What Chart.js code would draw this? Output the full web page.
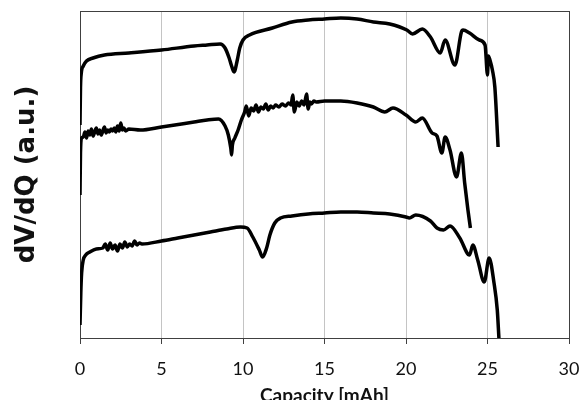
<!DOCTYPE html>
<html>
<head>
<meta charset="utf-8">
<script src="https://cdn.jsdelivr.net/npm/chart.js@4"></script>
<style>
html,body{margin:0;padding:0;background:#fff;}
#wrap{width:581px;height:400px;}
</style>
</head>
<body>
<div id="wrap"><canvas id="c" width="581" height="400"></canvas></div>
<script>
// Capacity [mAh] and dV/dQ (a.u., arbitrary vertical offsets)
const topX = [0,0.03,0.08,0.2,0.4,0.8,1.5,3,5,7,7.8,8.6,8.9,9.15,9.3,9.45,9.65,9.8,10.0,10.4,11.8,13,14,15,16,17,18,19,20.05,20.4,21.0,21.5,22.1,22.4,23.0,23.4,23.5,23.9,24.5,24.85,25.0,25.05,25.15,25.3,25.45,25.65];
const topY = [213,250,265,272,277,280,283,285,288,292,293,294,290,280,272,266,278,290,298,303,310,316,318,319,320,319,316,314,308,304,309,301,285,298,273,306,308,305,298,293,263,282,278,268,251,191];

const midX = [0,0.03,0.1,0.2,0.3,0.4,0.5,0.6,0.7,0.8,0.9,1.0,1.1,1.2,1.3,1.4,1.5,1.6,1.7,1.8,1.9,2.0,2.1,2.2,2.3,2.4,2.5,2.6,2.7,2.8,3.0,3.7,5,7,7.8,8.5,8.9,9.1,9.25,9.3,9.35,9.5,9.7,9.9,10.1,10.2,10.35,10.5,10.65,10.8,10.95,11.1,11.25,11.4,11.55,11.7,11.85,12.0,12.2,12.4,12.6,12.8,12.95,13.05,13.15,13.3,13.45,13.6,13.75,13.9,14.0,14.1,14.2,14.35,14.5,15,16,17,18,18.7,19.2,20,20.6,21,21.6,21.9,22.2,22.4,22.7,23.1,23.4,23.6,23.8,23.95];
const midY = [143,185,200,201,206,200,207,203,209,202,206,210,204,208,203,207,211,205,208,206,209,207,210,206,212,207,215,208,210,207,209,208,211,216,218,219,212,203,190,183,193,200,208,218,226,232,222,230,227,233,226,231,229,234,228,232,230,233,231,234,232,235,233,243,226,236,232,237,233,244,229,236,234,237,236,237,237,235,231,226,230,223,216,220,205,202,185,201,188,161,185,155,128,110];

const botX = [0,0.05,0.1,0.2,0.35,0.6,1.0,1.4,1.55,1.7,1.85,2.0,2.15,2.3,2.45,2.6,2.75,2.9,3.05,3.2,3.35,3.5,3.65,3.8,5,6,7,8,9,9.85,10.25,10.6,11.0,11.2,11.45,11.65,11.95,12.3,13,14,15,16,17,18,19,20,20.2,20.6,21.5,21.9,22.3,22.7,23.3,23.9,24.1,24.4,24.8,25.1,25.4,25.6,25.7];
const botY = [13,45,65,78,83,86,89,90,94,88,95,89,93,87,94,90,96,91,94,92,97,93,95,94,97,100,103,106,109,111,110,101,88,81,90,103,115,120,122,124,125,126,126,125,124,121,120,123,117,110,108,112,100,83,93,78,56,80,55,28,0];

const xTicks = [0,5,10,15,20,25,30];
const xTitle = 'Capacity [mAh]';
const yTitle = 'dV/dQ (a.u.)';

function pts(xs, ys){ return xs.map((x,i)=>({x:x, y:ys[i]})); }

const lineStyle = {borderColor:'#000', borderWidth:3.5, pointRadius:0, cubicInterpolationMode:'monotone', fill:false};

const boxPlugin = {
  id:'box',
  afterDraw(chart){
    const {ctx, chartArea:a} = chart;
    ctx.save();
    ctx.strokeStyle = '#404040';
    ctx.lineWidth = 1;
    ctx.beginPath();
    ctx.moveTo(a.left, a.top+0.5);
    ctx.lineTo(a.right+0.5, a.top+0.5);
    ctx.lineTo(a.right+0.5, a.bottom);
    ctx.stroke();
    ctx.restore();
  }
};

new Chart(document.getElementById('c'), {
  type:'line',
  data:{
    datasets:[
      Object.assign({label:'top', data:pts(topX, topY)}, lineStyle),
      Object.assign({label:'middle', data:pts(midX, midY)}, lineStyle),
      Object.assign({label:'bottom', data:pts(botX, botY)}, lineStyle)
    ]
  },
  options:{
    responsive:false,
    animation:false,
    layout:{padding:{top:11, right:12, left:0, bottom:-7}},
    plugins:{legend:{display:false}, tooltip:{enabled:false}},
    scales:{
      x:{
        type:'linear', min:0, max:30,
        afterBuildTicks(s){ s.ticks = xTicks.map(v=>({value:v})); },
        afterFit(s){ s.height = 69; s.paddingLeft = 0; s.paddingRight = 0; },
        grid:{
          color:(c)=> (c.tick && c.tick.value===30) ? '#404040' : '#c4c4c4',
          lineWidth:1, drawTicks:true, tickLength:6, tickColor:'#404040'
        },
        border:{display:true, color:'#404040', width:1},
        ticks:{font:{family:'Lato', size:18}, color:'#111', padding:14, maxRotation:0},
        title:{display:true, text:xTitle, font:{family:'Lato', size:19, weight:'bold'}, color:'#111', padding:{top:0, bottom:0}}
      },
      y:{
        min:0, max:327,
        afterFit(s){ s.width = 80; },
        grid:{display:false},
        border:{display:true, color:'#404040', width:1},
        ticks:{display:false},
        title:{display:true, text:yTitle, font:{family:'DejaVu Sans', size:26, weight:'bold'}, color:'#111', padding:{top:12, bottom:0}}
      }
    }
  },
  plugins:[boxPlugin]
});
</script>
</body>
</html>
